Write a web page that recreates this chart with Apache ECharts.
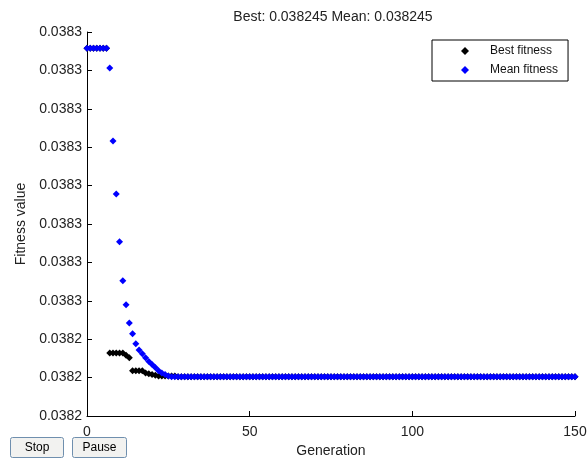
<!DOCTYPE html>
<html>
<head>
<meta charset="utf-8">
<script src="https://cdn.jsdelivr.net/npm/echarts@6/dist/echarts.min.js"></script>
<style>
  html, body { margin: 0; padding: 0; background: #fff; }
  #main { width: 587px; height: 460px; }
</style>
</head>
<body>
<div id="main"></div>
<script>
// 数据：每代适应度
const titleText = 'Best: 0.038245 Mean: 0.038245';
const seriesNames = ['Best fitness', 'Mean fitness'];
const yTickLabels = ['0.0382', '0.0382', '0.0382', '0.0383', '0.0383', '0.0383',
  '0.0383', '0.0383', '0.0383', '0.0383', '0.0383'];

const bestFitness = [
  0.0382879, 0.0382879, 0.0382879, 0.0382879, 0.0382879, 0.0382879, 0.0382879,
  0.0382482, 0.0382482, 0.0382482, 0.0382482, 0.0382482, 0.0382479, 0.0382476,
  0.0382459, 0.0382459, 0.0382459, 0.0382459, 0.0382456, 0.0382455, 0.0382454,
  0.0382453, 0.0382452, 0.0382452, 0.0382452, 0.0382452, 0.0382452, 0.0382452,
  0.0382451, 0.0382451, 0.0382451, 0.0382451, 0.0382451, 0.0382451, 0.0382451,
  0.0382451, 0.0382451, 0.0382451, 0.0382451, 0.0382451, 0.0382451, 0.0382451,
  0.0382451, 0.0382451, 0.0382451, 0.0382451, 0.0382451, 0.0382451, 0.0382451,
  0.0382451, 0.0382451, 0.0382451, 0.0382451, 0.0382451, 0.0382451, 0.0382451,
  0.0382451, 0.0382451, 0.0382451, 0.0382451, 0.0382451, 0.0382451, 0.0382451,
  0.0382451, 0.0382451, 0.0382451, 0.0382451, 0.0382451, 0.0382451, 0.0382451,
  0.0382451, 0.0382451, 0.0382451, 0.0382451, 0.0382451, 0.0382451, 0.0382451,
  0.0382451, 0.0382451, 0.0382451, 0.0382451, 0.0382451, 0.0382451, 0.0382451,
  0.0382451, 0.0382451, 0.0382451, 0.0382451, 0.0382451, 0.0382451, 0.0382451,
  0.0382451, 0.0382451, 0.0382451, 0.0382451, 0.0382451, 0.0382451, 0.0382451,
  0.0382451, 0.0382451, 0.0382451, 0.0382451, 0.0382451, 0.0382451, 0.0382451,
  0.0382451, 0.0382451, 0.0382451, 0.0382451, 0.0382451, 0.0382451, 0.0382451,
  0.0382451, 0.0382451, 0.0382451, 0.0382451, 0.0382451, 0.0382451, 0.0382451,
  0.0382451, 0.0382451, 0.0382451, 0.0382451, 0.0382451, 0.0382451, 0.0382451,
  0.0382451, 0.0382451, 0.0382451, 0.0382451, 0.0382451, 0.0382451, 0.0382451,
  0.0382451, 0.0382451, 0.0382451, 0.0382451, 0.0382451, 0.0382451, 0.0382451,
  0.0382451, 0.0382451, 0.0382451, 0.0382451, 0.0382451, 0.0382451, 0.0382451,
  0.0382451, 0.0382451, 0.0382451, 0.0382451, 0.0382451, 0.0382451
];

const meanFitness = [
  0.0382879, 0.0382879, 0.0382879, 0.0382879, 0.0382879, 0.0382879, 0.0382879,
  0.0382853, 0.0382758, 0.0382689, 0.0382627, 0.0382576, 0.0382545, 0.0382521,
  0.0382507, 0.0382494, 0.0382486, 0.0382481, 0.0382476, 0.0382471, 0.0382467,
  0.0382463, 0.0382459, 0.0382456, 0.0382454, 0.0382452, 0.0382451, 0.0382451,
  0.0382451, 0.0382451, 0.0382451, 0.0382451, 0.0382451, 0.0382451, 0.0382451,
  0.0382451, 0.0382451, 0.0382451, 0.0382451, 0.0382451, 0.0382451, 0.0382451,
  0.0382451, 0.0382451, 0.0382451, 0.0382451, 0.0382451, 0.0382451, 0.0382451,
  0.0382451, 0.0382451, 0.0382451, 0.0382451, 0.0382451, 0.0382451, 0.0382451,
  0.0382451, 0.0382451, 0.0382451, 0.0382451, 0.0382451, 0.0382451, 0.0382451,
  0.0382451, 0.0382451, 0.0382451, 0.0382451, 0.0382451, 0.0382451, 0.0382451,
  0.0382451, 0.0382451, 0.0382451, 0.0382451, 0.0382451, 0.0382451, 0.0382451,
  0.0382451, 0.0382451, 0.0382451, 0.0382451, 0.0382451, 0.0382451, 0.0382451,
  0.0382451, 0.0382451, 0.0382451, 0.0382451, 0.0382451, 0.0382451, 0.0382451,
  0.0382451, 0.0382451, 0.0382451, 0.0382451, 0.0382451, 0.0382451, 0.0382451,
  0.0382451, 0.0382451, 0.0382451, 0.0382451, 0.0382451, 0.0382451, 0.0382451,
  0.0382451, 0.0382451, 0.0382451, 0.0382451, 0.0382451, 0.0382451, 0.0382451,
  0.0382451, 0.0382451, 0.0382451, 0.0382451, 0.0382451, 0.0382451, 0.0382451,
  0.0382451, 0.0382451, 0.0382451, 0.0382451, 0.0382451, 0.0382451, 0.0382451,
  0.0382451, 0.0382451, 0.0382451, 0.0382451, 0.0382451, 0.0382451, 0.0382451,
  0.0382451, 0.0382451, 0.0382451, 0.0382451, 0.0382451, 0.0382451, 0.0382451,
  0.0382451, 0.0382451, 0.0382451, 0.0382451, 0.0382451, 0.0382451, 0.0382451,
  0.0382451, 0.0382451, 0.0382451, 0.0382451, 0.0382451, 0.0382451
];

const toPoints = arr => arr.map((v, i) => [i, v]);

const font = 'Arial, "Liberation Sans", sans-serif';
const textColor = '#222';

const myChart = echarts.init(document.getElementById('main'));
myChart.setOption({
  backgroundColor: '#fff',
  animation: false,
  title: {
    text: titleText,
    left: 328,
    top: 5,
    textAlign: 'center',
    textStyle: { fontFamily: font, fontSize: 14, fontWeight: 'normal', color: textColor }
  },
  legend: {
    orient: 'vertical',
    left: 432,
    top: 40,
    icon: 'diamond',
    itemWidth: 8,
    itemHeight: 8,
    itemGap: 7,
    padding: [5, 10, 5, 29],
    borderColor: '#000',
    borderWidth: 1,
    backgroundColor: '#fff',
    textStyle: { fontFamily: font, fontSize: 12, color: '#111', padding: [0, 0, 0, 16] },
    data: seriesNames
  },
  grid: { left: 87, right: 12, top: 32, bottom: 44, outerBoundsMode: 'none', containLabel: false },
  xAxis: {
    type: 'value',
    min: 0,
    max: 150,
    interval: 50,
    name: 'Generation',
    nameLocation: 'middle',
    nameGap: 26,
    nameTextStyle: { fontFamily: font, fontSize: 14, color: textColor },
    axisLine: { lineStyle: { color: '#000', width: 1 } },
    axisTick: { inside: true, length: 5, lineStyle: { color: '#000' } },
    axisLabel: { fontFamily: font, fontSize: 14, color: textColor, margin: 9 },
    splitLine: { show: false }
  },
  yAxis: {
    type: 'value',
    min: 0.03824,
    max: 0.03829,
    interval: 0.000005,
    name: 'Fitness value',
    nameLocation: 'middle',
    nameGap: 57,
    nameTextStyle: { fontFamily: font, fontSize: 14, color: textColor },
    axisLine: { show: true, lineStyle: { color: '#000', width: 1 } },
    axisTick: { show: true, inside: true, length: 5, lineStyle: { color: '#000' } },
    axisLabel: {
      fontFamily: font, fontSize: 14, color: textColor, margin: 5,
      formatter: (value, index) => yTickLabels[index]
    },
    splitLine: { show: false }
  },
  series: [
    {
      name: seriesNames[0],
      type: 'scatter',
      symbol: 'diamond',
      symbolSize: 7,
      itemStyle: { color: '#000', opacity: 1 },
      data: toPoints(bestFitness)
    },
    {
      name: seriesNames[1],
      type: 'scatter',
      symbol: 'diamond',
      symbolSize: 7,
      itemStyle: { color: '#0000ff', opacity: 1 },
      data: toPoints(meanFitness)
    }
  ],
  graphic: [
    {
      type: 'group', left: 10, top: 437,
      children: [
        { type: 'rect', shape: { x: 0, y: 0, width: 53, height: 20, r: 2 },
          style: { fill: '#f2f2f0', stroke: '#6f8fae', lineWidth: 1 } },
        { type: 'text', x: 26.5, y: 10,
          style: { text: 'Stop', font: '12px ' + font, fill: '#000', align: 'center', verticalAlign: 'middle' } }
      ]
    },
    {
      type: 'group', left: 72, top: 437,
      children: [
        { type: 'rect', shape: { x: 0, y: 0, width: 54, height: 20, r: 2 },
          style: { fill: '#f2f2f0', stroke: '#6f8fae', lineWidth: 1 } },
        { type: 'text', x: 27, y: 10,
          style: { text: 'Pause', font: '12px ' + font, fill: '#000', align: 'center', verticalAlign: 'middle' } }
      ]
    }
  ]
});
</script>
</body>
</html>
